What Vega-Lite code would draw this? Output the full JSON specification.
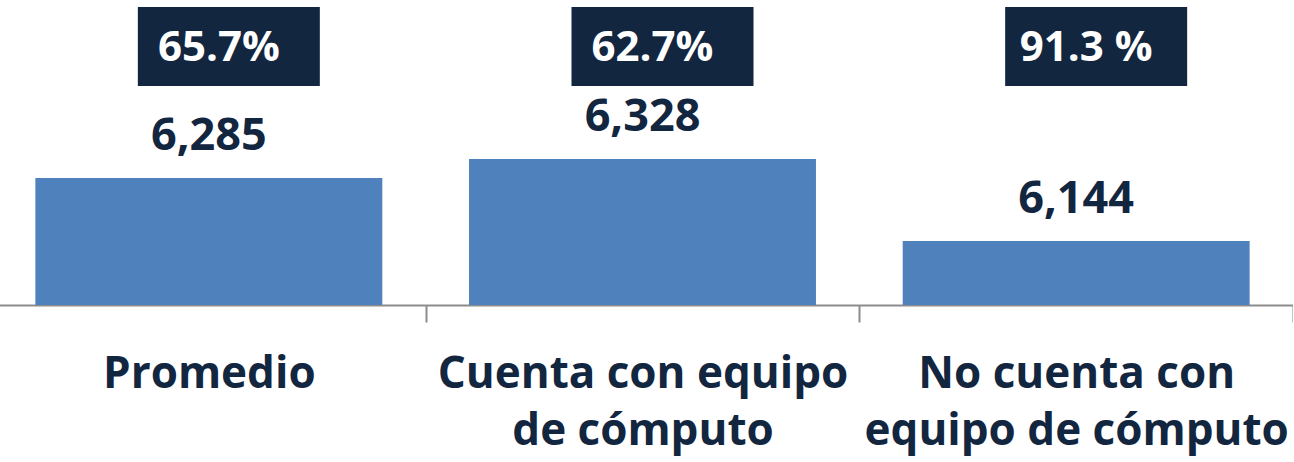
{
  "$schema": "https://vega.github.io/schema/vega-lite/v6.json",
  "autosize": {"type": "none"},
  "padding": {"left": -8, "top": 0, "right": 0, "bottom": 157},
  "width": 1301,
  "height": 305,
  "background": "white",
  "config": {"view": {"stroke": null}, "font": "Open Sans"},
  "data": {"values": [
    {"cat": "Promedio", "value": 6285, "pct": "65.7%"},
    {"cat": "Cuenta con equipo de cómputo", "value": 6328, "pct": "62.7%"},
    {"cat": "No cuenta con equipo de cómputo", "value": 6144, "pct": "91.3 %"}
  ]},
  "encoding": {
    "x": {
      "field": "cat", "type": "nominal", "sort": null,
      "scale": {"paddingInner": 0, "paddingOuter": 0},
      "axis": {
        "title": null, "orient": "bottom", "labelAngle": 0,
        "domainColor": "#8c8c8c", "domainWidth": 2,
        "tickColor": "#8c8c8c", "tickWidth": 2, "tickSize": 17, "tickBand": "extent",
        "labelFont": "Open Sans", "labelFontWeight": "bold", "labelFontSize": 44,
        "labelColor": "#13263f", "labelLineHeight": 57, "labelPadding": 30,
        "labelBaseline": "top", "labelLimit": 0, "labelOverlap": false,
        "labelExpr": "datum.label == 'Cuenta con equipo de cómputo' ? ['Cuenta con equipo', 'de cómputo'] : datum.label == 'No cuenta con equipo de cómputo' ? ['No cuenta con', 'equipo de cómputo'] : datum.label"
      }
    }
  },
  "layer": [
    {
      "mark": {"type": "bar", "color": "#4f81bd", "width": {"band": 0.8}},
      "encoding": {
        "y": {"field": "value", "type": "quantitative", "scale": {"domain": [6000, 6685], "zero": false, "nice": false}, "axis": null},
        "y2": {"datum": 6000}
      }
    },
    {
      "mark": {"type": "text", "font": "Open Sans", "fontWeight": "bold", "fontSize": 45, "color": "#13263f", "baseline": "alphabetic", "dy": -28},
      "encoding": {
        "y": {"field": "value", "type": "quantitative"},
        "text": {"field": "value", "type": "quantitative", "format": ","}
      }
    },
    {
      "mark": {"type": "rect", "color": "#13263f", "width": 182, "xOffset": 20},
      "encoding": {
        "y": {"datum": 6669},
        "y2": {"datum": 6492}
      }
    },
    {
      "mark": {"type": "text", "font": "Open Sans", "fontWeight": "bold", "fontSize": 42, "color": "white", "baseline": "middle", "xOffset": 10, "dy": 1},
      "encoding": {
        "y": {"datum": 6580},
        "text": {"field": "pct", "type": "nominal"}
      }
    }
  ]
}
